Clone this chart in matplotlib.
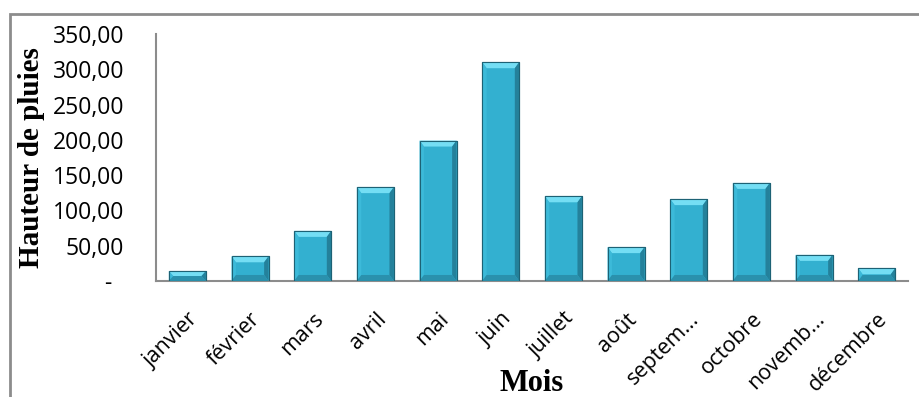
import matplotlib.pyplot as plt
from matplotlib.patches import Polygon, Rectangle

# Monthly rainfall
months = ['janvier', 'février', 'mars', 'avril', 'mai', 'juin',
          'juillet', 'août', 'septem...', 'octobre', 'novemb...', 'décembre']
rain = [14, 35, 71, 133, 199, 310, 120, 48, 116, 139, 37, 18]
yticks = [0, 50, 100, 150, 200, 250, 300, 350]

fig = plt.figure(figsize=(9.2, 3.97), dpi=100)
ax = fig.add_axes([0.1696, 0.2922, 0.8174, 0.6222])

# outer frame of the chart area
fig.patches.append(Rectangle((10 / 920, -0.05), 1.0, 1 - 14 / 397 + 0.05,
                             transform=fig.transFigure, fill=False,
                             edgecolor='#8c8c8c', linewidth=2, zorder=0))

x = range(len(months))
width = 0.59
bars = ax.bar(x, rain, width=width, color='#33b0d0', edgecolor='#1f6f86',
              linewidth=0.8, zorder=2)

ax.set_xlim(-0.5, len(months) - 0.5)
ax.set_ylim(0, 350)

# bevel effect on each bar
bx = 0.07   # side bevel, in categories
by = 8.5    # top/bottom bevel, in data units
for b in bars:
    x0, w, h = b.get_x(), b.get_width(), b.get_height()
    x1 = x0 + w
    t = min(by, h / 2)
    s = min(bx, w / 2)
    top = Polygon([(x0, h), (x1, h), (x1 - s, h - t), (x0 + s, h - t)],
                  closed=True, facecolor='#74def4', edgecolor='none', zorder=3)
    left = Polygon([(x0, 0), (x0, h), (x0 + s, h - t), (x0 + s, t)],
                   closed=True, facecolor='#3cbad9', edgecolor='none', zorder=3)
    right = Polygon([(x1, 0), (x1, h), (x1 - s, h - t), (x1 - s, t)],
                    closed=True, facecolor='#24819b', edgecolor='none', zorder=3)
    bottom = Polygon([(x0, 0), (x1, 0), (x1 - s, t), (x0 + s, t)],
                     closed=True, facecolor='#2a91ad', edgecolor='none', zorder=3)
    for p in (top, left, right, bottom):
        ax.add_patch(p)
    ax.add_patch(Rectangle((x0, 0), w, h, fill=False, edgecolor='#1d6275',
                           linewidth=0.8, zorder=4))

ax.set_yticks(yticks)
ax.set_yticklabels([f'{v:.2f}'.replace('.', ',') if v else '-  ' for v in yticks],
                   fontsize=16.5, family='Open Sans')
ax.tick_params(axis='y', length=0, pad=23)

ax.set_xticks(list(x))
ax.set_xticklabels(months, rotation=45, ha='right', rotation_mode='anchor',
                   fontsize=15.5, family='Open Sans')
ax.tick_params(axis='x', length=0, pad=20)

for side in ('top', 'right'):
    ax.spines[side].set_visible(False)
ax.spines['left'].set_color('#8c8c8c')
ax.spines['bottom'].set_color('#8c8c8c')
ax.spines['left'].set_linewidth(1.5)
ax.spines['bottom'].set_linewidth(1.5)

ax.set_xlabel('Mois', family='Liberation Serif', fontweight='bold', fontsize=22)
ax.xaxis.set_label_coords(0.5, -0.355)
ax.set_ylabel('Hauteur de pluies', family='Liberation Serif', fontweight='bold',
              fontsize=21, va='center')
ax.yaxis.set_label_coords(-0.165, 0.5)

fig.savefig('out.png', dpi=100)
